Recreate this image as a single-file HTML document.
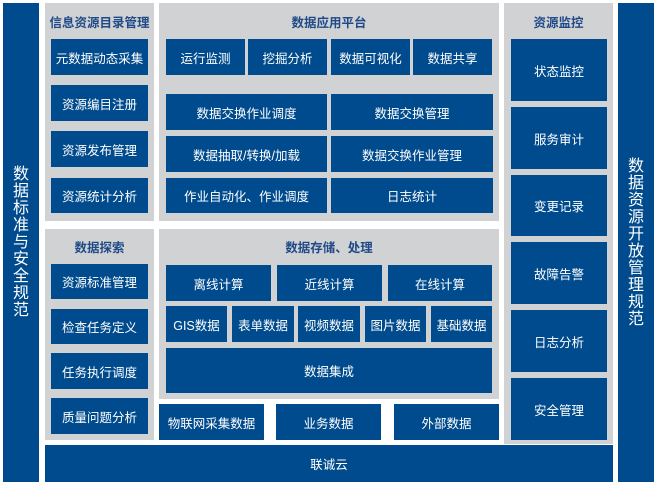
<!DOCTYPE html>
<html><head><meta charset="utf-8"><style>
body{margin:0;width:656px;height:482px;background:#fff;position:relative;overflow:hidden;font-family:"Liberation Sans","Noto Sans CJK SC",sans-serif}
div{position:absolute;box-sizing:border-box}
.p{background:#d1d2d4}
.b{background:#004b8d;color:#fff;font-size:12.5px;display:flex;align-items:center;justify-content:center;white-space:nowrap}
.t{color:#1f4a87;font-weight:bold;font-size:12.5px;text-align:center;line-height:16px}
.v{background:#004b8d;color:#fff;font-size:16px;line-height:17px;display:flex;align-items:center;justify-content:center;text-align:center}
</style></head><body>
<div class="v" style="left:3px;top:3px;width:36px;height:479px"><span style="width:17px">数据标准与安全规范</span></div>
<div class="v" style="left:618px;top:3px;width:36px;height:479px"><span style="width:17px">数据资源开放管理规范</span></div>

<div class="p" style="left:45px;top:3px;width:109px;height:218px"></div>
<div class="t" style="left:45px;top:15px;width:109px">信息资源目录管理</div>
<div class="b" style="left:51px;top:39px;width:97px;height:36px">元数据动态采集</div>
<div class="b" style="left:51px;top:85px;width:97px;height:36px">资源编目注册</div>
<div class="b" style="left:51px;top:131px;width:97px;height:36px">资源发布管理</div>
<div class="b" style="left:51px;top:178px;width:97px;height:35px">资源统计分析</div>

<div class="p" style="left:159px;top:3px;width:340px;height:218px"></div>
<div class="t" style="left:159px;top:15px;width:340px">数据应用平台</div>
<div class="b" style="left:166px;top:39px;width:79px;height:36px">运行监测</div>
<div class="b" style="left:248px;top:39px;width:79px;height:36px">挖掘分析</div>
<div class="b" style="left:331px;top:39px;width:79px;height:36px">数据可视化</div>
<div class="b" style="left:413px;top:39px;width:79px;height:36px">数据共享</div>
<div class="b" style="left:166px;top:94px;width:161px;height:36px">数据交换作业调度</div>
<div class="b" style="left:331px;top:94px;width:162px;height:36px">数据交换管理</div>
<div class="b" style="left:166px;top:136px;width:161px;height:36px">数据抽取/转换/加载</div>
<div class="b" style="left:331px;top:136px;width:162px;height:36px">数据交换作业管理</div>
<div class="b" style="left:166px;top:178px;width:161px;height:35px">作业自动化、作业调度</div>
<div class="b" style="left:331px;top:178px;width:162px;height:35px">日志统计</div>

<div class="p" style="left:504px;top:3px;width:109px;height:441px"></div>
<div class="t" style="left:504px;top:15px;width:109px">资源监控</div>
<div class="b" style="left:511px;top:39px;width:96px;height:62px">状态监控</div>
<div class="b" style="left:511px;top:107px;width:96px;height:62px">服务审计</div>
<div class="b" style="left:511px;top:175px;width:96px;height:61px">变更记录</div>
<div class="b" style="left:511px;top:242px;width:96px;height:62px">故障告警</div>
<div class="b" style="left:511px;top:310px;width:96px;height:62px">日志分析</div>
<div class="b" style="left:511px;top:378px;width:96px;height:62px">安全管理</div>

<div class="p" style="left:45px;top:229px;width:109px;height:211px"></div>
<div class="t" style="left:45px;top:240px;width:109px">数据探索</div>
<div class="b" style="left:51px;top:264px;width:97px;height:35px">资源标准管理</div>
<div class="b" style="left:51px;top:309px;width:97px;height:35px">检查任务定义</div>
<div class="b" style="left:51px;top:353px;width:97px;height:36px">任务执行调度</div>
<div class="b" style="left:51px;top:398px;width:97px;height:36px">质量问题分析</div>

<div class="p" style="left:159px;top:229px;width:340px;height:170px"></div>
<div class="t" style="left:159px;top:240px;width:340px">数据存储、处理</div>
<div class="b" style="left:166px;top:265px;width:105px;height:36px">离线计算</div>
<div class="b" style="left:277px;top:265px;width:105px;height:36px">近线计算</div>
<div class="b" style="left:388px;top:265px;width:104px;height:36px">在线计算</div>
<div class="b" style="left:166px;top:306px;width:61px;height:36px">GIS数据</div>
<div class="b" style="left:232px;top:306px;width:62px;height:36px">表单数据</div>
<div class="b" style="left:298px;top:306px;width:62px;height:36px">视频数据</div>
<div class="b" style="left:365px;top:306px;width:61px;height:36px">图片数据</div>
<div class="b" style="left:431px;top:306px;width:61px;height:36px">基础数据</div>
<div class="b" style="left:166px;top:348px;width:326px;height:45px">数据集成</div>

<div class="b" style="left:159px;top:404px;width:105px;height:36px">物联网采集数据</div>
<div class="b" style="left:276px;top:404px;width:105px;height:36px">业务数据</div>
<div class="b" style="left:394px;top:404px;width:105px;height:36px">外部数据</div>

<div class="b" style="left:45px;top:445px;width:568px;height:37px">联诚云</div>
</body></html>
